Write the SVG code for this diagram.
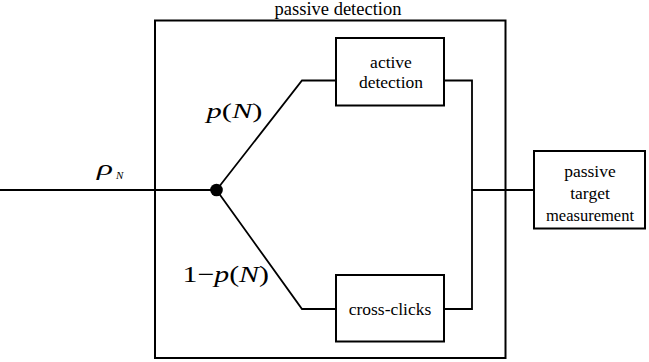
<svg xmlns="http://www.w3.org/2000/svg" width="649" height="362" viewBox="0 0 649 362">
<style>
.box{fill:#fff;stroke:#000;stroke-width:2}
.outer{fill:none;stroke:#000;stroke-width:2}
.ln{fill:none;stroke:#000;stroke-width:1.8}
text{font-family:'Liberation Serif','Times New Roman',serif;fill:#000}
.t{font-size:17.5px;text-anchor:middle}
.i{font-style:italic}
</style>
<rect width="649" height="362" fill="#fff"/>
<g id="passive-detection">
<rect class="outer" x="155" y="20.5" width="350.5" height="337.5"/>
<text class="t" x="338" y="14.5" style="font-size:18.5px">passive detection</text>
</g>
<g id="connectors">
<polyline class="ln" points="0,190 216.5,190"/>
<polyline class="ln" points="216.5,190 302,80.5 336,80.5"/>
<polyline class="ln" points="216.5,190 302,309 336,309"/>
<polyline class="ln" points="444,80.5 472,80.5 472,309 444,309"/>
<polyline class="ln" points="472,190 534,190"/>
</g>
<g id="junction">
<circle cx="216.5" cy="190" r="6.3" fill="#000"/>
</g>
<g id="active-detection">
<rect class="box" x="336" y="38" width="108" height="67.5"/>
<text class="t" x="391" y="68">active</text>
<text class="t" x="391" y="88">detection</text>
</g>
<g id="cross-clicks">
<rect class="box" x="336" y="275" width="108" height="66.5"/>
<text class="t" x="390" y="315">cross-clicks</text>
</g>
<g id="passive-target-measurement">
<rect class="box" x="534" y="151" width="111" height="77.5"/>
<text class="t" x="590" y="177">passive</text>
<text class="t" x="590" y="199">target</text>
<text class="t" x="590" y="221" style="font-size:16.5px">measurement</text>
</g>
<g id="labels">
<text class="i" x="97" y="174.5" style="font-size:22px" textLength="16" lengthAdjust="spacingAndGlyphs">ρ</text>
<text class="i" x="116" y="178.5" style="font-size:11px">N</text>
<text x="206.5" y="118" style="font-size:20px" textLength="56" lengthAdjust="spacingAndGlyphs"><tspan class="i">p</tspan>(<tspan class="i">N</tspan>)</text>
<text x="182.5" y="282" style="font-size:23px" textLength="86.5" lengthAdjust="spacingAndGlyphs">1−<tspan class="i">p</tspan>(<tspan class="i">N</tspan>)</text>
</g>
</svg>
